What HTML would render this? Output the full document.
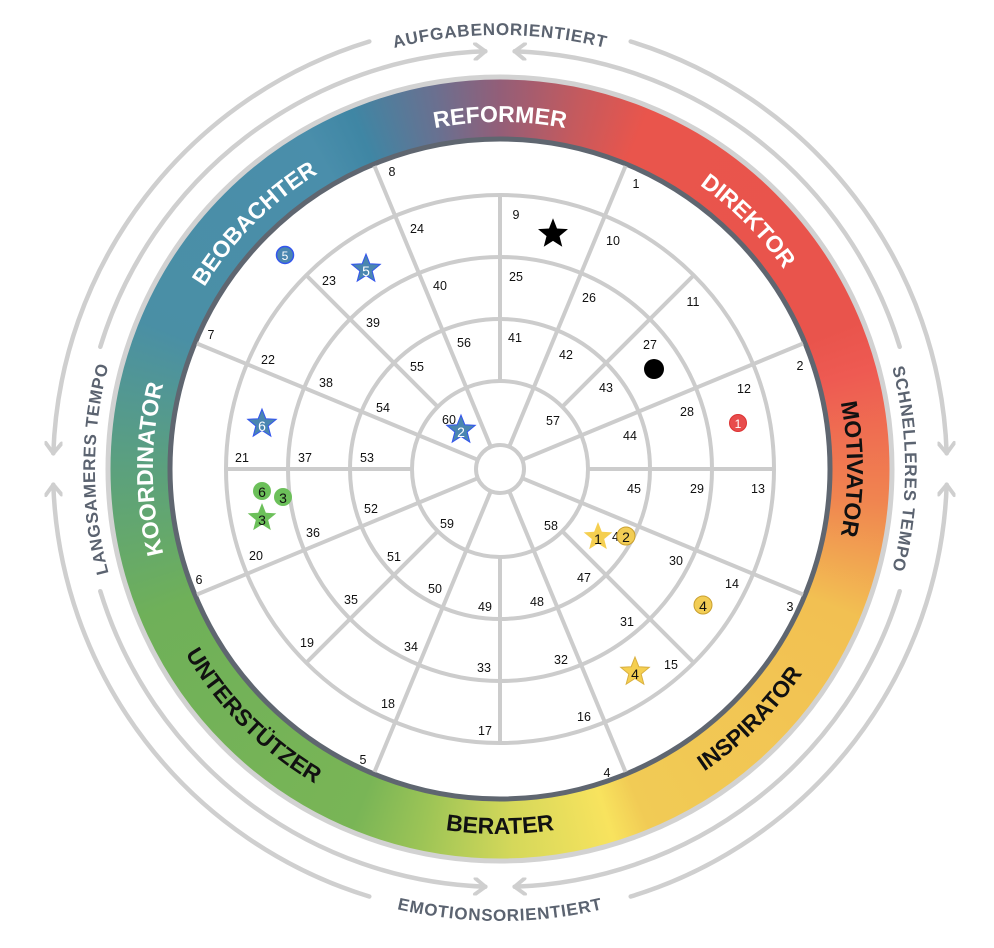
<!DOCTYPE html>
<html><head><meta charset="utf-8"><style>
html,body{margin:0;padding:0;background:#fff;}
#wrap{position:relative;width:994px;height:948px;overflow:hidden;}
#ring{position:absolute;left:110px;top:79px;width:780px;height:780px;border-radius:50%;
background:conic-gradient(from 0deg,#935e78 0deg,#c45a5e 12deg,#e9554c 22.5deg,#e9544c 67.5deg,#ee5a52 75deg,#f08550 95deg,#f2c052 112.5deg,#f1cb55 157.5deg,#f8e35e 163deg,#d5d85a 178deg,#9cc456 192deg,#79b556 202.5deg,#6fb059 247.5deg,#5da27a 268deg,#4a8fa5 292.5deg,#4a8eab 330deg,#3f86a4 337.5deg,#6a7090 350deg,#935e78 360deg);}
svg{position:absolute;left:0;top:0;}
</style></head><body><div id="wrap">
<div id="ring"></div>
<svg width="994" height="948" viewBox="0 0 994 948" font-family="'Liberation Sans', sans-serif">
<defs>
<marker id="ar" markerUnits="userSpaceOnUse" markerWidth="18" markerHeight="18" viewBox="0 0 16 16" refX="13" refY="8" orient="auto">
<path d="M4,1 L13,8 L4,15" fill="none" stroke="#cfcfcf" stroke-width="3.5" stroke-linecap="round" stroke-linejoin="round"/>
</marker>
<polygon id="st" points="0,-15 3.82,-5.26 14.27,-4.64 6.18,2.01 8.82,12.14 0,6.5 -8.82,12.14 -6.18,2.01 -14.27,-4.64 -3.82,-5.26"/>
<path id="cw347" d="M500,816 A347,347 0 1 1 500,122 A347,347 0 1 1 500,816"/>
<path id="ccw365" d="M500,104 A365,365 0 1 0 500,834 A365,365 0 1 0 500,104"/>
<path id="cw434" d="M500,903 A434,434 0 1 1 500,35 A434,434 0 1 1 500,903"/>
<path id="cw405" d="M500,874 A405,405 0 1 1 500,64 A405,405 0 1 1 500,874"/>
<path id="ccw452" d="M500,17 A452,452 0 1 0 500,921 A452,452 0 1 0 500,17"/>
</defs>
<circle cx="500" cy="469" r="392" fill="none" stroke="#d2d2d2" stroke-width="5"/>
<circle cx="500" cy="469" r="330" fill="#fff" stroke="#5f6670" stroke-width="5"/>
<g fill="none" stroke="#cfcfcf" stroke-width="4.5" stroke-linecap="round" marker-end="url(#ar)">
<path d="M100.3,346.8 A418,418 0 0 1 485.4,51.3"/>
<path d="M899.7,346.8 A418,418 0 0 0 514.6,51.3"/>
<path d="M899.7,591.2 A418,418 0 0 1 514.6,886.7"/>
<path d="M100.3,591.2 A418,418 0 0 0 485.4,886.7"/>
<path d="M630.7,41.5 A447,447 0 0 1 946.7,453.4"/>
<path d="M630.7,896.5 A447,447 0 0 0 946.7,484.6"/>
<path d="M369.3,896.5 A447,447 0 0 1 53.3,484.6"/>
<path d="M369.3,41.5 A447,447 0 0 0 53.3,453.4"/>
</g>
<g font-size="17" font-weight="bold" fill="#5b6370" text-anchor="middle" letter-spacing="0.8">
<text><textPath href="#cw434" startOffset="50%">AUFGABENORIENTIERT</textPath></text>
<text><textPath href="#cw405" startOffset="25%">LANGSAMERES TEMPO</textPath></text>
<text><textPath href="#cw405" startOffset="75%">SCHNELLERES TEMPO</textPath></text>
<text><textPath href="#ccw452" startOffset="50%">EMOTIONSORIENTIERT</textPath></text>
</g>
<g font-size="23" font-weight="bold" text-anchor="middle">
<text fill="#fff"><textPath href="#cw347" startOffset="25%">KOORDINATOR</textPath></text>
<text fill="#fff"><textPath href="#cw347" startOffset="37.5%">BEOBACHTER</textPath></text>
<text fill="#fff"><textPath href="#cw347" startOffset="50%">REFORMER</textPath></text>
<text fill="#fff"><textPath href="#cw347" startOffset="62.5%">DIREKTOR</textPath></text>
<text fill="#111"><textPath href="#cw347" startOffset="75%">MOTIVATOR</textPath></text>
<text fill="#111"><textPath href="#ccw365" startOffset="62.5%">INSPIRATOR</textPath></text>
<text fill="#111"><textPath href="#ccw365" startOffset="50%">BERATER</textPath></text>
<text fill="#111"><textPath href="#ccw365" startOffset="37.5%">UNTERSTÜTZER</textPath></text>
</g>
<g fill="none" stroke="#cccccc" stroke-width="4">
<circle cx="500" cy="469" r="24"/>
<circle cx="500" cy="469" r="88"/>
<circle cx="500" cy="469" r="150"/>
<circle cx="500" cy="469" r="212"/>
<circle cx="500" cy="469" r="274"/>
<line x1="500" y1="445" x2="500" y2="141" transform="rotate(22.5 500 469)"/>
<line x1="500" y1="445" x2="500" y2="141" transform="rotate(67.5 500 469)"/>
<line x1="500" y1="445" x2="500" y2="141" transform="rotate(112.5 500 469)"/>
<line x1="500" y1="445" x2="500" y2="141" transform="rotate(157.5 500 469)"/>
<line x1="500" y1="445" x2="500" y2="141" transform="rotate(202.5 500 469)"/>
<line x1="500" y1="445" x2="500" y2="141" transform="rotate(247.5 500 469)"/>
<line x1="500" y1="445" x2="500" y2="141" transform="rotate(292.5 500 469)"/>
<line x1="500" y1="445" x2="500" y2="141" transform="rotate(337.5 500 469)"/>
<line x1="500" y1="381" x2="500" y2="195"/>
<line x1="500" y1="381" x2="500" y2="195" transform="rotate(45 500 469)"/>
<line x1="500" y1="381" x2="500" y2="195" transform="rotate(90 500 469)"/>
<line x1="500" y1="381" x2="500" y2="195" transform="rotate(135 500 469)"/>
<line x1="500" y1="381" x2="500" y2="195" transform="rotate(180 500 469)"/>
<line x1="500" y1="381" x2="500" y2="195" transform="rotate(225 500 469)"/>
<line x1="500" y1="381" x2="500" y2="195" transform="rotate(270 500 469)"/>
<line x1="500" y1="381" x2="500" y2="195" transform="rotate(315 500 469)"/>
</g>
<g font-size="12.5" fill="#111" text-anchor="middle" dominant-baseline="central">
<text x="636" y="184">1</text><text x="800" y="366">2</text><text x="790" y="607">3</text><text x="607" y="773">4</text>
<text x="363" y="760">5</text><text x="199" y="580">6</text><text x="211" y="335">7</text><text x="392" y="172">8</text>
<text x="516" y="215">9</text><text x="613" y="241">10</text><text x="693" y="302">11</text><text x="744" y="389">12</text>
<text x="758" y="489">13</text><text x="732" y="584">14</text><text x="671" y="665">15</text><text x="584" y="717">16</text>
<text x="485" y="731">17</text><text x="388" y="704">18</text><text x="307" y="643">19</text><text x="256" y="556">20</text>
<text x="242" y="458">21</text><text x="268" y="360">22</text><text x="329" y="281">23</text><text x="417" y="229">24</text>
<text x="516" y="277">25</text><text x="589" y="298">26</text><text x="650" y="345">27</text><text x="687" y="412">28</text>
<text x="697" y="489">29</text><text x="676" y="561">30</text><text x="627" y="622">31</text><text x="561" y="660">32</text>
<text x="484" y="668">33</text><text x="411" y="647">34</text><text x="351" y="600">35</text><text x="313" y="533">36</text>
<text x="305" y="458">37</text><text x="326" y="383">38</text><text x="373" y="323">39</text><text x="440" y="286">40</text>
<text x="515" y="338">41</text><text x="566" y="355">42</text><text x="606" y="388">43</text><text x="630" y="436">44</text>
<text x="634" y="489">45</text><text x="619" y="537">46</text><text x="584" y="578">47</text><text x="537" y="602">48</text>
<text x="485" y="607">49</text><text x="435" y="589">50</text><text x="394" y="557">51</text><text x="371" y="509">52</text>
<text x="367" y="458">53</text><text x="383" y="408">54</text><text x="417" y="367">55</text><text x="464" y="343">56</text>
<text x="553" y="421">57</text><text x="551" y="526">58</text><text x="447" y="524">59</text><text x="449" y="420">60</text>
</g>
<g font-size="14" text-anchor="middle" dominant-baseline="central">
<use href="#st" transform="translate(553,234) scale(1.05)" fill="#000"/>
<circle cx="654" cy="369" r="10" fill="#000"/>
<circle cx="738" cy="423" r="8.5" fill="#e84c4c" stroke="#d33" stroke-width="1"/><text x="738" y="424" fill="#fff" font-size="12">1</text>
<circle cx="285" cy="255" r="8.5" fill="#4a86b0" stroke="#3355ee" stroke-width="1.5"/><text x="285" y="256" fill="#fff" font-size="12">5</text>
<use href="#st" transform="translate(366,269)" fill="#4a86b0" stroke="#3355ee" stroke-width="1"/><text x="366" y="271" fill="#fff">5</text>
<use href="#st" transform="translate(262,424)" fill="#4a86b0" stroke="#3355ee" stroke-width="1"/><text x="262" y="426" fill="#fff">6</text>
<use href="#st" transform="translate(461,430)" fill="#4a86b0" stroke="#3355ee" stroke-width="1"/><text x="461" y="432" fill="#fff">2</text>
<circle cx="262" cy="491" r="9" fill="#6cc05a"/><text x="262" y="492" fill="#111">6</text>
<circle cx="283" cy="497" r="9" fill="#6cc05a"/><text x="283" y="498" fill="#111">3</text>
<use href="#st" transform="translate(262,518)" fill="#6cc05a"/><text x="262" y="520" fill="#111">3</text>
<use href="#st" transform="translate(598,537)" fill="#f5cf50"/><text x="598" y="539" fill="#111">1</text>
<circle cx="626" cy="536" r="9" fill="#f2cd55" stroke="#c9a030" stroke-width="1"/><text x="626" y="537" fill="#111">2</text>
<circle cx="703" cy="605" r="9" fill="#f2cd55" stroke="#c9a030" stroke-width="1"/><text x="703" y="606" fill="#111">4</text>
<use href="#st" transform="translate(635,672)" fill="#f5cf50" stroke="#d9b040" stroke-width="1"/><text x="635" y="674" fill="#111">4</text>
</g>
</svg>
</div></body></html>
